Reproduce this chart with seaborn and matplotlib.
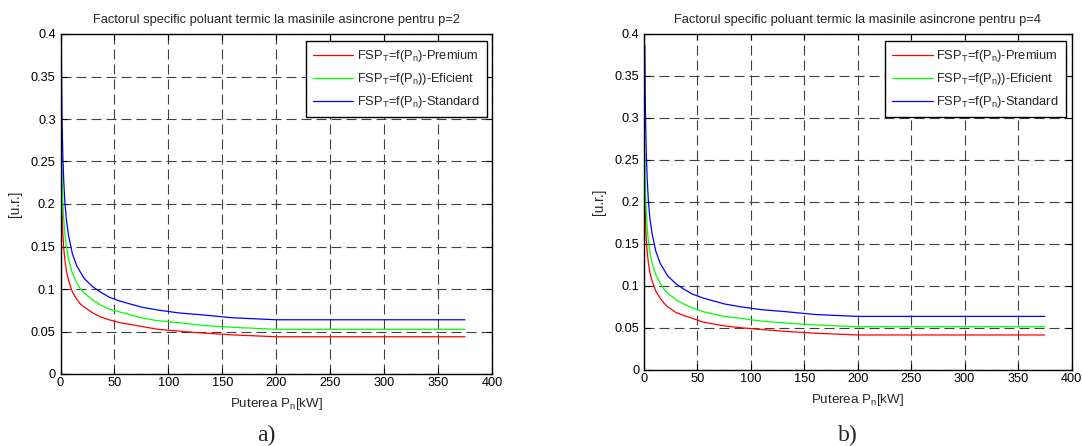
import numpy as np
import pandas as pd
import matplotlib
matplotlib.use("Agg")
import matplotlib.pyplot as plt
import seaborn as sns
from matplotlib.ticker import FuncFormatter, MultipleLocator

# Rated power [kW]
power_kw = [0.75, 1.1, 1.5, 2.2, 3, 4, 5.5, 7.5, 11, 15, 18.5, 22, 30, 37, 45,
            55, 75, 90, 110, 132, 160, 200, 250, 315, 355, 375]

# p=2
premium_p2 = [0.2392, 0.2092, 0.1876, 0.1641, 0.1481, 0.1351, 0.1211, 0.1099, 0.0965,
              0.0881, 0.0823, 0.0787, 0.0718, 0.0672, 0.0638, 0.0604, 0.0560, 0.0526,
              0.0504, 0.0482, 0.0460, 0.0438, 0.0438, 0.0438, 0.0438, 0.0438]
eficient_p2 = [0.2920, 0.2563, 0.2300, 0.2019, 0.1820, 0.1655, 0.1494, 0.1351, 0.1186,
               0.1074, 0.1001, 0.0953, 0.0870, 0.0811, 0.0764, 0.0730, 0.0661, 0.0627,
               0.0604, 0.0571, 0.0549, 0.0526, 0.0526, 0.0526, 0.0526, 0.0526]
standard_p2 = [0.3870, 0.3333, 0.2953, 0.2547, 0.2270, 0.2034, 0.1806, 0.1628, 0.1416,
               0.1274, 0.1198, 0.1123, 0.1025, 0.0965, 0.0905, 0.0858, 0.0787, 0.0753,
               0.0718, 0.0695, 0.0661, 0.0638, 0.0638, 0.0638, 0.0638, 0.0638]

# p=4
premium_p4 = [0.2121, 0.1891, 0.1723, 0.1534, 0.1403, 0.1287, 0.1161, 0.1062, 0.0941,
              0.0858, 0.0799, 0.0753, 0.0684, 0.0650, 0.0616, 0.0571, 0.0526, 0.0504,
              0.0482, 0.0460, 0.0438, 0.0417, 0.0417, 0.0417, 0.0417, 0.0417]
eficient_p4 = [0.2563, 0.2285, 0.2077, 0.1862, 0.1696, 0.1547, 0.1403, 0.1274, 0.1136,
               0.1038, 0.0965, 0.0917, 0.0834, 0.0787, 0.0741, 0.0695, 0.0638, 0.0616,
               0.0582, 0.0560, 0.0537, 0.0515, 0.0515, 0.0515, 0.0515, 0.0515]
standard_p4 = [0.3870, 0.3333, 0.2953, 0.2547, 0.2270, 0.2034, 0.1806, 0.1628, 0.1416,
               0.1274, 0.1198, 0.1123, 0.1025, 0.0965, 0.0905, 0.0858, 0.0787, 0.0753,
               0.0718, 0.0695, 0.0661, 0.0638, 0.0638, 0.0638, 0.0638, 0.0638]

series_labels = [r'FSP$_{\mathrm{T}}$=f(P$_{\mathrm{n}}$)-Premium',
                 r'FSP$_{\mathrm{T}}$=f(P$_{\mathrm{n}}$))-Eficient',
                 r'FSP$_{\mathrm{T}}$=f(P$_{\mathrm{n}}$)-Standard']
series_colors = ['#ff0000', '#00ff00', '#0000ff']

titles = ['Factorul specific poluant termic la masinile asincrone pentru p=2',
          'Factorul specific poluant termic la masinile asincrone pentru p=4']
panel_tags = ['a)', 'b)']
x_label = r'Puterea P$_{\mathrm{n}}$[kW]'
y_label = '[u.r.]'

sns.set_style('white')
plt.rcParams['font.family'] = ['Liberation Sans', 'DejaVu Sans']
plt.rcParams['mathtext.fontset'] = 'custom'
plt.rcParams['mathtext.rm'] = 'Liberation Sans'
plt.rcParams['mathtext.it'] = 'Liberation Sans:italic'
plt.rcParams['mathtext.bf'] = 'Liberation Sans:bold'

W, H = 1082, 446
fig = plt.figure(figsize=(W / 100, H / 100), dpi=100)

axes_px = [(60.5, 34, 492, 374), (644, 34, 1071.5, 370)]
datasets = [(premium_p2, eficient_p2, standard_p2), (premium_p4, eficient_p4, standard_p4)]

for i, (box, data) in enumerate(zip(axes_px, datasets)):
    l, t, r, b = box
    ax = fig.add_axes([l / W, (H - b) / H, (r - l) / W, (b - t) / H])
    frames = []
    for lab, vals in zip(series_labels, data):
        frames.append(pd.DataFrame({'P': power_kw, 'FSP': vals, 'serie': lab}))
    df = pd.concat(frames, ignore_index=True)
    sns.lineplot(data=df, x='P', y='FSP', hue='serie', hue_order=series_labels,
                 palette=series_colors, linewidth=0.9, ax=ax, sort=False,
                 estimator=None)
    ax.set_xlim(0, 400)
    ax.set_ylim(0, 0.4)
    ax.xaxis.set_major_locator(MultipleLocator(50))
    ax.yaxis.set_major_locator(MultipleLocator(0.05))
    ax.yaxis.set_major_formatter(FuncFormatter(lambda v, p: f'{v:g}'))
    ax.xaxis.set_major_formatter(FuncFormatter(lambda v, p: f'{v:g}'))
    ax.grid(True, color='0.25', linestyle=(0, (9, 4.5)), linewidth=0.8)
    ax.set_axisbelow(True)
    for s in ax.spines.values():
        s.set_visible(True)
        s.set_color('black')
        s.set_linewidth(1.0)
    ax.tick_params(direction='in', length=4, width=0.8, top=True, right=True,
                   bottom=True, left=True, labelsize=9.2, colors='black')
    ax.tick_params(axis='y', pad=3.5)
    ax.tick_params(axis='x', pad=2.5)
    ax.set_title(titles[i], fontsize=9.3, pad=8)
    ax.set_xlabel(x_label, fontsize=9.6, labelpad=5)
    ax.set_ylabel(y_label, fontsize=9.8, labelpad=6)
    leg = ax.legend(loc='upper right', bbox_to_anchor=(1 - 5.5 / (r - l), 1 - 7 / (b - t)),
                    borderaxespad=0, fontsize=9.3, frameon=True, fancybox=False,
                    handlelength=3.1, handletextpad=0.3, borderpad=0.55,
                    labelspacing=0.55, framealpha=1)
    leg.get_frame().set_edgecolor('black')
    leg.get_frame().set_linewidth(1.0)
    fig.text(((l + r) / 2 - 10) / W, 1 - 435 / H, panel_tags[i], ha='center', va='center',
             fontsize=17, family='Liberation Serif')

fig.savefig('out.png', dpi=100, facecolor='white')
